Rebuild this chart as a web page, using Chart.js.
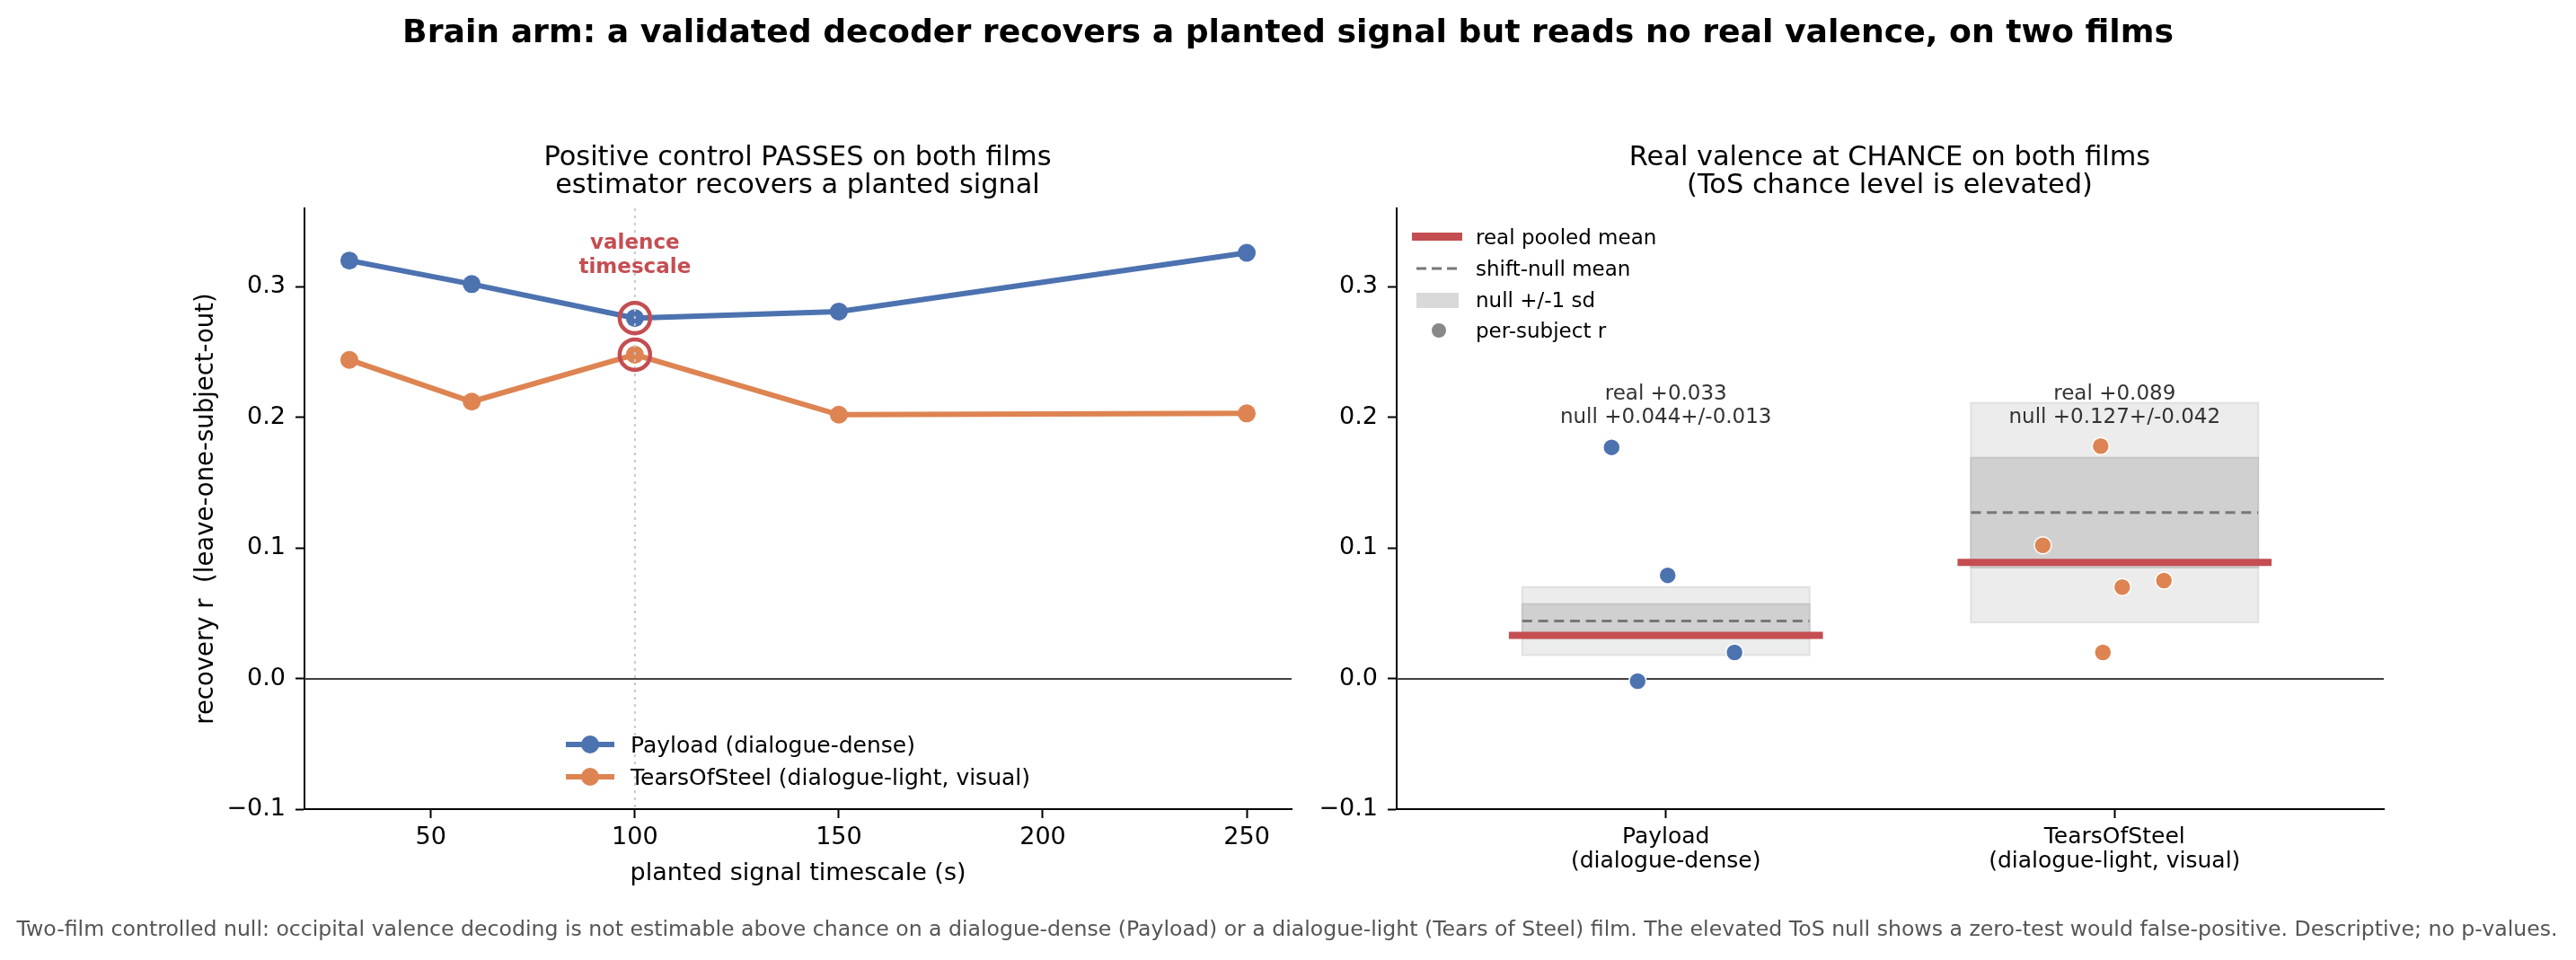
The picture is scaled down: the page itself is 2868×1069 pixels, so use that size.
<!DOCTYPE html>
<html>
<head>
<meta charset="utf-8">
<script src="https://cdn.jsdelivr.net/npm/chart.js@4.4.1/dist/chart.umd.min.js"></script>
<style>
  body { margin: 0; background: #fff; font-family: 'DejaVu Sans', sans-serif; }
  #fig { position: relative; width: 2868px; height: 1069px; overflow: hidden; background: #fff; }
  #fig canvas { position: absolute; left: 0; top: 0; }
  .txt { position: absolute; white-space: nowrap; transform: translate(-50%, -50%); text-align: center; line-height: 1; color: #000; }
  .leg { position: absolute; white-space: nowrap; transform: translateY(-50%); line-height: 1; color: #000; }
  .sw { position: absolute; }
</style>
</head>
<body>
<div id="fig">
  <canvas id="left" width="2868" height="1069"></canvas>
  <canvas id="right" width="2868" height="1069"></canvas>

  <div class="txt" style="left:1434px; top:35px; font-size:36.2px; font-weight:bold;">Brain arm: a validated decoder recovers a planted signal but reads no real valence, on two films</div>
  <div class="txt" style="left:888px; top:189px; font-size:30.4px; line-height:31px;">Positive control PASSES on both films<br>estimator recovers a planted signal</div>
  <div class="txt" style="left:2104px; top:189px; font-size:30.4px; line-height:31px;">Real valence at CHANCE on both films<br>(ToS chance level is elevated)</div>
  <div class="txt" style="left:1433px; top:1035px; font-size:23.6px; color:#555;">Two-film controlled null: occipital valence decoding is not estimable above chance on a dialogue-dense (Payload) or a dialogue-light (Tears of Steel) film. The elevated ToS null shows a zero-test would false-positive. Descriptive; no p-values.</div>

  <!-- left legend -->
  <div class="sw" style="left:630px; top:826px; width:54px; height:6px; background:#4c72b0;"></div>
  <div class="sw" style="left:647px; top:819px; width:20px; height:20px; border-radius:50%; background:#4c72b0;"></div>
  <div class="leg" style="left:702px; top:829px; font-size:25px;">Payload (dialogue-dense)</div>
  <div class="sw" style="left:630px; top:862px; width:54px; height:6px; background:#dd8452;"></div>
  <div class="sw" style="left:647px; top:855px; width:20px; height:20px; border-radius:50%; background:#dd8452;"></div>
  <div class="leg" style="left:702px; top:865px; font-size:25px;">TearsOfSteel (dialogue-light, visual)</div>

  <!-- right legend -->
  <div class="sw" style="left:1572px; top:259px; width:56px; height:9px; background:#c44e52;"></div>
  <div class="leg" style="left:1643px; top:264px; font-size:23px;">real pooled mean</div>
  <svg class="sw" style="left:1572px; top:294px;" width="56" height="10"><line x1="5" y1="5" x2="53" y2="5" stroke="#777" stroke-width="3" stroke-dasharray="11 6"/></svg>
  <div class="leg" style="left:1643px; top:299px; font-size:23px;">shift-null mean</div>
  <div class="sw" style="left:1577px; top:326px; width:47px; height:17px; background:#d9d9d9;"></div>
  <div class="leg" style="left:1643px; top:334px; font-size:23px;">null +/-1 sd</div>
  <div class="sw" style="left:1594px; top:360px; width:16px; height:16px; border-radius:50%; background:#888;"></div>
  <div class="leg" style="left:1643px; top:368px; font-size:23px;">per-subject r</div>
</div>

<script>
// ---- data: left panel (positive control) ----
const timescales = [30, 60, 100, 150, 250];
const payloadRecovery = [0.320, 0.302, 0.276, 0.281, 0.326];
const tosRecovery = [0.244, 0.212, 0.248, 0.202, 0.203];
const valenceTimescale = 100;
const xTicks = [50, 100, 150, 200, 250];
const yTicks = [-0.1, 0.0, 0.1, 0.2, 0.3];

// ---- data: right panel (real valence vs shift null) ----
const films = ['Payload', 'TearsOfSteel'];
const filmNotes = ['(dialogue-dense)', '(dialogue-light, visual)'];
const realMean = [0.033, 0.089];
const nullMean = [0.044, 0.127];
const nullSd = [0.013, 0.042];
const payloadSubjX = [-0.121, 0.004, 0.153, -0.063];
const payloadSubjR = [0.177, 0.079, 0.020, -0.002];
const tosSubjX = [0.969, 0.840, 1.017, 1.110, 0.974];
const tosSubjR = [0.178, 0.102, 0.070, 0.075, 0.020];

const BLUE = '#4c72b0', ORANGE = '#dd8452', RED = '#c44e52';
const FONT = "'DejaVu Sans', sans-serif";
Chart.defaults.font.family = FONT;
Chart.defaults.color = '#000';

const TOP = 232, BOTTOM = 901;
const fmtY = v => (v < 0 ? '\u2212' + Math.abs(v).toFixed(1) : v.toFixed(1));
const fmtSigned = v => (v >= 0 ? '+' : '-') + Math.abs(v).toFixed(3);

function yAxis(leftEdge, withTitle) {
  return {
    type: 'linear', min: -0.1, max: 0.36,
    afterBuildTicks: s => { s.ticks = yTicks.map(v => ({ value: v })); },
    afterFit: s => { s.width = leftEdge; },
    ticks: { font: { size: 27 }, color: '#000', padding: 11, autoSkip: false, callback: v => fmtY(v) },
    grid: { drawOnChartArea: false, drawTicks: true, tickLength: 10, tickWidth: 2, tickColor: '#000' },
    border: { display: true, color: '#000', width: 2 },
    title: withTitle ? { display: true, text: 'recovery r  (leave-one-subject-out)', font: { size: 27.5 }, color: '#000', padding: { top: 213, bottom: 0 } } : { display: false }
  };
}

function zeroLine(chart) {
  const { ctx, chartArea: a, scales: { y } } = chart;
  const y0 = Math.round(y.getPixelForValue(0));
  ctx.save();
  ctx.strokeStyle = '#404040'; ctx.lineWidth = 2.2;
  ctx.beginPath(); ctx.moveTo(a.left, y0); ctx.lineTo(a.right, y0); ctx.stroke();
  ctx.restore();
}

// ---- left chart ----
const hiIdx = timescales.indexOf(valenceTimescale);

const leftDecor = {
  id: 'leftDecor',
  beforeDatasetsDraw(chart) { zeroLine(chart); },
  afterDatasetDraw(chart, args) {
    if (args.index !== 1) return;
    const { ctx, chartArea: a, scales: { x, y } } = chart;
    const px = x.getPixelForValue(valenceTimescale);
    ctx.save();
    ctx.strokeStyle = '#c8c8c8'; ctx.lineWidth = 2; ctx.setLineDash([3, 5]);
    ctx.beginPath(); ctx.moveTo(px, a.top); ctx.lineTo(px, a.bottom); ctx.stroke();
    ctx.setLineDash([]);
    ctx.fillStyle = RED; ctx.font = 'bold 23px ' + FONT;
    ctx.textAlign = 'center'; ctx.textBaseline = 'middle';
    const ty = y.getPixelForValue(0.333);
    ctx.fillText('valence', px, ty);
    ctx.fillText('timescale', px, ty + 27);
    ctx.restore();
  }
};

new Chart(document.getElementById('left'), {
  type: 'line',
  data: {
    datasets: [
      {
        label: 'valence timescale', type: 'scatter', order: 0,
        data: [{ x: valenceTimescale, y: payloadRecovery[hiIdx] }, { x: valenceTimescale, y: tosRecovery[hiIdx] }],
        pointRadius: 17, pointBorderWidth: 4.5, pointBorderColor: RED, pointBackgroundColor: 'rgba(0,0,0,0)', showLine: false
      },
      {
        label: 'Payload (dialogue-dense)', order: 1,
        data: timescales.map((t, i) => ({ x: t, y: payloadRecovery[i] })),
        borderColor: BLUE, backgroundColor: BLUE, borderWidth: 6,
        pointRadius: 10, pointBorderWidth: 0, pointBackgroundColor: BLUE, tension: 0
      },
      {
        label: 'TearsOfSteel (dialogue-light, visual)', order: 2,
        data: timescales.map((t, i) => ({ x: t, y: tosRecovery[i] })),
        borderColor: ORANGE, backgroundColor: ORANGE, borderWidth: 6,
        pointRadius: 10, pointBorderWidth: 0, pointBackgroundColor: ORANGE, tension: 0
      }
    ]
  },
  options: {
    responsive: false, animation: false, events: [],
    layout: { padding: { left: 0, top: TOP, right: 2868 - 1438, bottom: 0 } },
    plugins: { legend: { display: false }, tooltip: { enabled: false } },
    scales: {
      x: {
        type: 'linear', min: 19, max: 261,
        afterBuildTicks: s => { s.ticks = xTicks.map(v => ({ value: v })); },
        afterFit: s => { s.height = 1069 - BOTTOM; },
        ticks: { font: { size: 27 }, color: '#000', padding: 6, autoSkip: false, maxRotation: 0, callback: v => String(v) },
        grid: { drawOnChartArea: false, drawTicks: true, tickLength: 10, tickWidth: 2, tickColor: '#000' },
        border: { display: true, color: '#000', width: 2 },
        title: { display: true, text: 'planted signal timescale (s)', font: { size: 27 }, color: '#000', padding: { top: 0, bottom: 80 } }
      },
      y: yAxis(339, true)
    }
  },
  plugins: [leftDecor]
});

// ---- right chart ----
const BAND_HALF = 0.32, REAL_HALF = 0.35;

const rightDecor = {
  id: 'rightDecor',
  beforeDatasetsDraw(chart) {
    const { ctx, scales: { x, y } } = chart;
    ctx.save();
    films.forEach((f, i) => {
      const x0 = x.getPixelForValue(i - BAND_HALF), x1 = x.getPixelForValue(i + BAND_HALF);
      // +/-2 sd (light)
      let t = y.getPixelForValue(nullMean[i] + 2 * nullSd[i]), b = y.getPixelForValue(nullMean[i] - 2 * nullSd[i]);
      ctx.fillStyle = '#ececec'; ctx.fillRect(x0, t, x1 - x0, b - t);
      ctx.strokeStyle = '#e0e0e0'; ctx.lineWidth = 2; ctx.strokeRect(x0, t, x1 - x0, b - t);
      // +/-1 sd (dark)
      t = y.getPixelForValue(nullMean[i] + nullSd[i]); b = y.getPixelForValue(nullMean[i] - nullSd[i]);
      ctx.fillStyle = '#d0d0d0'; ctx.fillRect(x0, t, x1 - x0, b - t);
      ctx.strokeStyle = '#c6c6c6'; ctx.strokeRect(x0, t, x1 - x0, b - t);
      // null mean
      const ym = y.getPixelForValue(nullMean[i]);
      ctx.strokeStyle = '#777'; ctx.lineWidth = 3; ctx.setLineDash([11, 6.7]);
      ctx.beginPath(); ctx.moveTo(x0, ym); ctx.lineTo(x1, ym); ctx.stroke();
      ctx.setLineDash([]);
      // real pooled mean
      const yr = y.getPixelForValue(realMean[i]);
      ctx.strokeStyle = RED; ctx.lineWidth = 8;
      ctx.beginPath(); ctx.moveTo(x.getPixelForValue(i - REAL_HALF), yr); ctx.lineTo(x.getPixelForValue(i + REAL_HALF), yr); ctx.stroke();
      // annotation
      ctx.fillStyle = '#333'; ctx.font = '23px ' + FONT; ctx.textAlign = 'center'; ctx.textBaseline = 'middle';
      const ty = y.getPixelForValue(0.2);
      ctx.fillText('real ' + fmtSigned(realMean[i]), x.getPixelForValue(i), ty - 26);
      ctx.fillText('null ' + fmtSigned(nullMean[i]) + '+/-' + nullSd[i].toFixed(3), x.getPixelForValue(i), ty);
    });
    ctx.restore();
    zeroLine(chart);
  }
};

new Chart(document.getElementById('right'), {
  type: 'scatter',
  data: {
    datasets: [
      {
        label: 'Payload per-subject r',
        data: payloadSubjX.map((v, i) => ({ x: v, y: payloadSubjR[i] })),
        pointRadius: 9.5, pointBorderWidth: 1.5, pointBorderColor: '#fff', pointBackgroundColor: BLUE
      },
      {
        label: 'TearsOfSteel per-subject r',
        data: tosSubjX.map((v, i) => ({ x: v, y: tosSubjR[i] })),
        pointRadius: 9.5, pointBorderWidth: 1.5, pointBorderColor: '#fff', pointBackgroundColor: ORANGE
      }
    ]
  },
  options: {
    responsive: false, animation: false, events: [],
    layout: { padding: { left: 0, top: TOP, right: 2868 - 2654, bottom: 0 } },
    plugins: { legend: { display: false }, tooltip: { enabled: false } },
    scales: {
      x: {
        type: 'linear', min: -0.6, max: 1.6,
        afterBuildTicks: s => { s.ticks = films.map((f, i) => ({ value: i })); },
        afterFit: s => { s.height = 1069 - BOTTOM; },
        ticks: { font: { size: 25, lineHeight: 1.09 }, color: '#000', padding: 8, autoSkip: false, maxRotation: 0, callback: v => [films[v], filmNotes[v]] },
        grid: { drawOnChartArea: false, drawTicks: true, tickLength: 10, tickWidth: 2, tickColor: '#000' },
        border: { display: true, color: '#000', width: 2 }
      },
      y: yAxis(1555, false)
    }
  },
  plugins: [rightDecor]
});
</script>
</body>
</html>
